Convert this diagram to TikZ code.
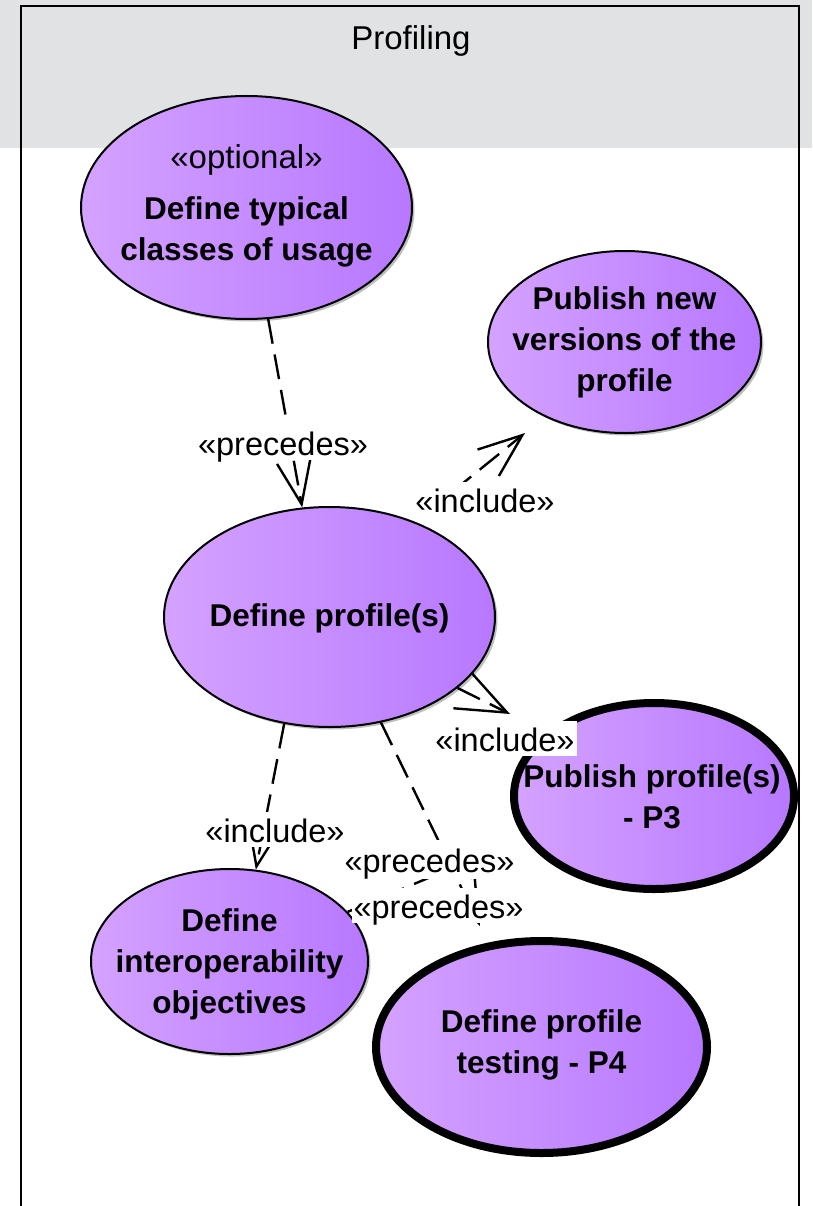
\documentclass[tikz,border=0pt]{standalone}
\usepackage{fontspec}
\setmainfont{Liberation Sans}
\usetikzlibrary{arrows.meta,shapes.geometric,shadows}
\definecolor{ucLeft}{RGB}{212,162,255}
\definecolor{ucRight}{RGB}{183,120,255}
\definecolor{headGray}{RGB}{225,226,228}
\begin{document}
\begin{tikzpicture}[x=1pt,y=-1pt,
  uc/.style={ellipse, draw=black, line width=2pt, left color=ucLeft, right color=ucRight,
    inner sep=0pt, drop shadow={shadow xshift=2.5pt, shadow yshift=-2.5pt, opacity=0.25, fill=black}},
  ucbold/.style={uc, line width=8pt},
  uctext/.style={align=center, font=\bfseries\fontsize{31.5}{41}\selectfont},
  conn/.style={line width=2.4pt, dash pattern=on 25pt off 11pt,
    -{Straight Barb[length=44pt,width=34pt]}},
  bigconn/.style={conn, -{Straight Barb[length=50pt,width=40pt]}},
  lbl/.style={fill=white, inner xsep=2pt, inner ysep=2pt, text height=28pt, text depth=3pt,
    font=\fontsize{32.5}{34}\selectfont}]
\useasboundingbox (0,0) rectangle (812,1206);

% package header band and frame
\fill[headGray] (0,0) rectangle (812,148);
\draw[line width=2.2pt] (21,1212) -- (21,6) -- (799,6) -- (799,1212);
\node[font=\fontsize{33}{36}\selectfont] (title) at (411,41) {Profiling};

% use cases
\node[uc, minimum width=331pt, minimum height=223pt] (usage) at (246.5,207.5) {};
\node[uc, minimum width=273pt, minimum height=182pt] (versions) at (624.5,342) {};
\node[uc, minimum width=331pt, minimum height=220pt] (defprof) at (329.5,617) {};
\node[ucbold, minimum width=280pt, minimum height=186pt] (pubprof) at (654,796) {};
\node[uc, minimum width=277pt, minimum height=185pt] (interop) at (229.5,961.5) {};
\node[ucbold, minimum width=331pt, minimum height=212pt] (testing) at (541.5,1047) {};

\node[uctext] (tusage) at (246.5,206) {{\mdseries\fontsize{33}{41}\selectfont «optional»}\\[10pt] Define typical\\ classes of usage};
\node[uctext] (tversions) at (624.5,342) {Publish new\\ versions of the\\ profile};
\node[uctext] (tdefprof) at (329.5,618) {Define profile(s)};
\node[uctext] (tpubprof) at (652,797) {Publish profile(s)\\ - P3};
\node[uctext] (tinterop) at (229.5,964) {Define\\ interoperability\\ objectives};
\node[uctext] (ttesting) at (541.5,1045) {Define profile\\ testing - P4};

% dependencies
\coordinate (vtip) at (525,433);
\coordinate (p3tip) at (510,714);
\coordinate (ttip) at (480,926);
\coordinate (ptip) at (508,844.5);
\draw[conn] (usage.-79) -- (defprof.104);
\draw[conn, dash phase=25pt] (defprof.48) -- (vtip);
\draw[bigconn] (defprof.-29) -- (p3tip);
\draw[conn] (defprof.-113) -- (interop.74);
\draw[conn] (defprof.-64) -- (ttip);
\draw[conn] (interop) -- (ptip);

% stereotype labels
\node[lbl] (lprec1) at (283,442.5) {«precedes»};
\node[lbl] (linc1) at (485,499.5) {«include»};
\node[lbl] (linc2) at (505,738.5) {«include»};
\node[lbl] (linc3) at (275,829.5) {«include»};
\node[lbl, inner ysep=4pt] (lprec2) at (429.5,859.5) {«precedes»};
\node[lbl] (lprec3) at (438.5,905.5) {«precedes»};
\end{tikzpicture}
\end{document}
